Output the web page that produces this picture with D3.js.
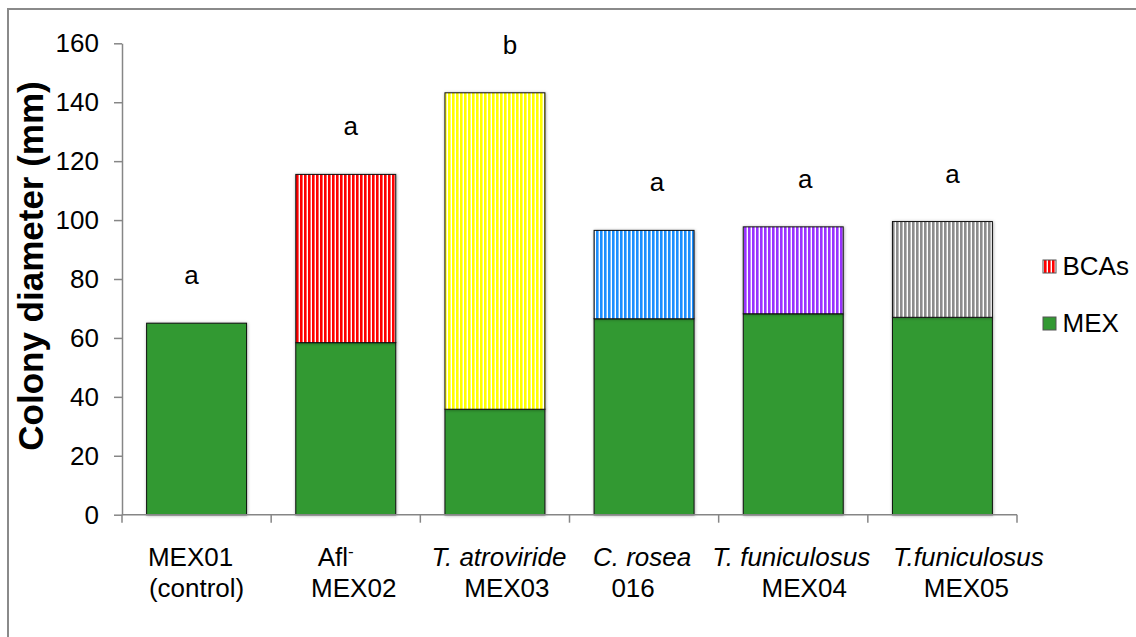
<!DOCTYPE html>
<html>
<head>
<meta charset="utf-8">
<script src="https://cdn.jsdelivr.net/npm/d3@7"></script>
<style>
  html, body { margin: 0; padding: 0; background: #fff; }
  svg { display: block; font-family: "Liberation Sans", Arial, sans-serif; }
</style>
</head>
<body>
<svg id="chart" width="1136" height="637"></svg>
<script>
// ---------- data ----------
const categories = ["MEX01", "MEX02", "MEX03", "016", "MEX04", "MEX05"];
const labelLine1 = ["MEX01", "Afl", "T. atroviride", "C. rosea", "T. funiculosus", "T.funiculosus"];
const labelLine2 = ["(control)", "MEX02", "MEX03", "016", "MEX04", "MEX05"];
const line1Italic = [false, false, true, true, true, true];
const line1Superscript = ["", "-", "", "", "", ""];
const mexValues = [65, 58.4, 35.8, 66.5, 68.2, 67.0];
const bcaValues = [0, 57.1, 107.4, 30.0, 29.5, 32.5];
const sigLetters = ["a", "a", "b", "a", "a", "a"];
const yTicks = [0, 20, 40, 60, 80, 100, 120, 140, 160];
const seriesNames = ["BCAs", "MEX"];

// ---------- layout / style ----------
const W = 1136, H = 637;
const plot = { left: 122, right: 1017, top: 43.3, bottom: 514.7 };
const green = "#339933";
const stripeColors = ["#ff0000", "#ff0000", "#ffff00", "#1e8fff", "#9933ff", "#8c8c8c"];
const line1Shift = [-6, -10, 4, -2, -2, 26];
const line2Shift = [0, 8, 12, -11, 11, 24];
const letterShift = [-5, 5, 15, 13, 12, 10];

const svg = d3.select("#chart");
const defs = svg.append("defs");

// stripe patterns
stripeColors.forEach((c, i) => {
  const p = defs.append("pattern")
    .attr("id", "stripe" + i)
    .attr("patternUnits", "userSpaceOnUse")
    .attr("width", 4).attr("height", 10);
  p.append("rect").attr("width", 4).attr("height", 10).attr("fill", "#ffffff");
  p.append("rect").attr("x", 0).attr("width", 2.6).attr("height", 10).attr("fill", c);
});

const shadow = defs.append("filter").attr("id", "shadow")
  .attr("x", "-10%").attr("y", "-10%").attr("width", "120%").attr("height", "120%");
shadow.append("feDropShadow").attr("dx", 0.5).attr("dy", 0.5)
  .attr("stdDeviation", 1.8).attr("flood-color", "#000").attr("flood-opacity", 0.35);

// outer frame
svg.append("rect")
  .attr("x", 8).attr("y", 9).attr("width", 1200).attr("height", 700)
  .attr("fill", "none").attr("stroke", "#8a8a8a").attr("stroke-width", 2);

// scales
const x = d3.scaleBand().domain(categories)
  .range([plot.left, plot.right]).paddingInner(0.33).paddingOuter(0.165);
const y = d3.scaleLinear().domain([0, 160]).range([plot.bottom, plot.top]);

// bars
const g = svg.append("g");
categories.forEach((c, i) => {
  const x0 = x(c), bw = x.bandwidth();
  const mexTop = y(mexValues[i]);
  g.append("rect")
    .attr("x", x0).attr("y", mexTop)
    .attr("width", bw).attr("height", y(0) - mexTop)
    .attr("fill", green).attr("stroke", "#111").attr("stroke-width", 1)
    .attr("filter", "url(#shadow)");
  if (bcaValues[i] > 0) {
    const tot = mexValues[i] + bcaValues[i];
    g.append("rect")
      .attr("x", x0).attr("y", y(tot))
      .attr("width", bw).attr("height", y(mexValues[i]) - y(tot))
      .attr("fill", "url(#stripe" + i + ")").attr("stroke", "#111").attr("stroke-width", 1)
      .attr("filter", "url(#shadow)");
  }
  // significance letter
  svg.append("text")
    .attr("x", x0 + bw / 2 + letterShift[i]).attr("y", y(mexValues[i] + bcaValues[i]) - 39)
    .attr("text-anchor", "middle").attr("font-size", 26).attr("fill", "#000")
    .text(sigLetters[i]);
});

// y axis
const yAxis = svg.append("g").attr("transform", `translate(${plot.left},0)`)
  .call(d3.axisLeft(y).tickValues(yTicks).tickSize(8).tickSizeOuter(0).tickPadding(15));
yAxis.select(".domain").attr("stroke", "#868686").attr("stroke-width", 1.5);
yAxis.selectAll(".tick line").attr("stroke", "#868686").attr("stroke-width", 1.5);
yAxis.selectAll(".tick text").attr("font-size", 26).attr("fill", "#000")
  .attr("font-family", "Liberation Sans, Arial, sans-serif");

// x axis (line + boundary ticks)
const xa = svg.append("g");
xa.append("line").attr("x1", plot.left).attr("x2", plot.right)
  .attr("y1", plot.bottom).attr("y2", plot.bottom)
  .attr("stroke", "#868686").attr("stroke-width", 1.5);
const boundaries = categories.map(c => x(c) - x.step() * x.paddingInner() / 2);
boundaries.push(plot.right);
boundaries.forEach(bx => {
  xa.append("line").attr("x1", bx).attr("x2", bx)
    .attr("y1", plot.bottom).attr("y2", plot.bottom + 8)
    .attr("stroke", "#868686").attr("stroke-width", 1.5);
});

// x labels
categories.forEach((c, i) => {
  const cx = x(c) + x.bandwidth() / 2;
  const t1 = svg.append("text")
    .attr("x", cx + line1Shift[i]).attr("y", 565.5)
    .attr("text-anchor", "middle").attr("font-size", 26).attr("fill", "#000")
    .attr("font-style", line1Italic[i] ? "italic" : "normal");
  t1.append("tspan").text(labelLine1[i]);
  if (line1Superscript[i]) {
    t1.append("tspan").attr("font-size", 17).attr("dy", -9).text(line1Superscript[i]);
  }
  svg.append("text")
    .attr("x", cx + line2Shift[i]).attr("y", 596.5)
    .attr("text-anchor", "middle").attr("font-size", 26).attr("fill", "#000")
    .text(labelLine2[i]);
});

// y axis title
svg.append("text")
  .attr("transform", "translate(43,266) rotate(-90)")
  .attr("text-anchor", "middle").attr("font-size", 35).attr("font-weight", "bold")
  .attr("fill", "#000")
  .text("Colony diameter (mm)");

// legend
const legendY = [260, 317];
const legendFill = ["url(#stripe0)", green];
seriesNames.forEach((s, i) => {
  svg.append("rect")
    .attr("x", 1043).attr("y", legendY[i]).attr("width", 13).attr("height", 13)
    .attr("fill", legendFill[i]).attr("stroke", "#555").attr("stroke-width", 1);
  svg.append("text")
    .attr("x", 1062.5).attr("y", legendY[i] + 15)
    .attr("font-size", 26).attr("fill", "#000").text(s);
});
</script>
</body>
</html>
